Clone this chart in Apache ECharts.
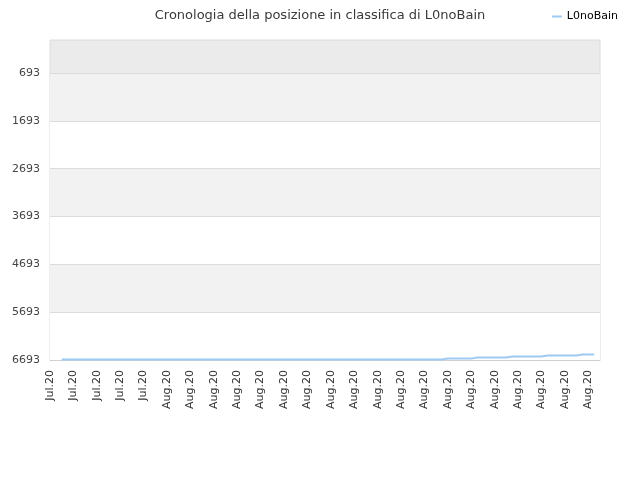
<!DOCTYPE html>
<html>
<head>
<meta charset="utf-8">
<script src="https://cdn.jsdelivr.net/npm/echarts@6/dist/echarts.min.js"></script>
<style>html,body{margin:0;padding:0;background:#fff}#c{width:640px;height:480px}</style>
</head>
<body>
<div id="c"></div>
<script>
const titleText = 'Cronologia della posizione in classifica di L0noBain';
const seriesName = 'L0noBain';
const categories = [
  'Jul.20','Jul.20','Jul.20','Jul.20','Jul.20','Jul.20','Jul.20','Jul.20','Jul.20','Jul.20',
  'Jul.20','Jul.20','Jul.20','Jul.20','Jul.20','Jul.20','Jul.20','Jul.20','Jul.20','Jul.20',
  'Aug.20','Aug.20','Aug.20','Aug.20','Aug.20','Aug.20','Aug.20','Aug.20','Aug.20','Aug.20',
  'Aug.20','Aug.20','Aug.20','Aug.20','Aug.20','Aug.20','Aug.20','Aug.20','Aug.20','Aug.20',
  'Aug.20','Aug.20','Aug.20','Aug.20','Aug.20','Aug.20','Aug.20','Aug.20','Aug.20','Aug.20',
  'Aug.20','Aug.20','Aug.20','Aug.20','Aug.20','Aug.20','Aug.20','Aug.20','Aug.20','Aug.20',
  'Aug.20','Aug.20','Aug.20','Aug.20','Aug.20','Aug.20','Aug.20','Aug.20','Aug.20','Aug.20',
  'Aug.20','Aug.20','Aug.20','Aug.20','Aug.20','Aug.20','Aug.20','Aug.20','Aug.20','Aug.20',
  'Aug.20','Aug.20','Aug.20','Aug.20','Aug.20','Aug.20','Aug.20','Aug.20','Aug.20','Aug.20',
  'Aug.20','Aug.20','Aug.20','Aug.20','Aug.20'
];
const rankValues = [
  null,null,6680,6680,6680,6680,6680,6680,6680,6680,
  6680,6680,6680,6680,6680,6680,6680,6680,6680,6680,
  6680,6680,6680,6680,6680,6680,6680,6680,6680,6680,
  6680,6680,6680,6680,6680,6680,6680,6680,6680,6680,
  6680,6680,6680,6680,6680,6680,6680,6680,6680,6680,
  6680,6680,6680,6680,6680,6680,6680,6680,6680,6680,
  6680,6680,6680,6680,6680,6680,6680,6680,6664,6664,
  6664,6664,6664,6643,6643,6643,6643,6643,6643,6622,
  6622,6622,6622,6622,6622,6601,6601,6601,6601,6601,
  6601,6580,6580,6580,null
];
const yTicks = [693, 1693, 2693, 3693, 4693, 5693, 6693];
const yMin = 1;
const yMax = 6693;

const chart = echarts.init(document.getElementById('c'), null, {renderer: 'canvas'});
const font = 'DejaVu Sans';
chart.setOption({
  animation: false,
  backgroundColor: '#ffffff',
  title: {
    text: titleText,
    left: 'center',
    top: 4,
    textStyle: {fontFamily: font, fontSize: 13, fontWeight: 'normal', color: '#3a3a3a'}
  },
  legend: {
    right: 17,
    top: 6,
    icon: 'rect',
    itemWidth: 10,
    itemHeight: 2,
    itemGap: 8,
    textStyle: {fontFamily: font, fontSize: 11, color: '#000'},
    data: [seriesName]
  },
  grid: {
    left: 50, right: 40, top: 40, bottom: 120,
    show: true,
    backgroundColor: '#ebebeb',
    borderColor: '#dcdcdc',
    borderWidth: 1,
    containLabel: false
  },
  xAxis: {
    type: 'category',
    data: categories,
    boundaryGap: false,
    axisLine: {lineStyle: {color: '#d0d0d0'}},
    axisTick: {show: false},
    axisLabel: {
      interval: 3,
      rotate: 90,
      margin: 10,
      fontFamily: font,
      fontSize: 11,
      color: '#333'
    },
    splitLine: {show: false}
  },
  yAxis: {
    type: 'value',
    inverse: true,
    min: yMin,
    max: yMax,
    axisLine: {show: false},
    axisTick: {show: false, customValues: yTicks},
    axisLabel: {
      customValues: yTicks,
      formatter: function (v) { return String(v); },
      fontFamily: font,
      fontSize: 11,
      color: '#444',
      margin: 10
    },
    splitLine: {show: true, lineStyle: {color: '#dcdcdc', width: 1}},
    splitArea: {show: true, areaStyle: {color: ['#f2f2f2', '#ffffff']}}
  },
  series: [{
    name: seriesName,
    type: 'line',
    data: rankValues,
    showSymbol: false,
    symbol: 'none',
    connectNulls: false,
    itemStyle: {color: '#9dc9f3'},
    lineStyle: {color: '#9dc9f3', width: 2}
  }]
});
</script>
</body>
</html>
